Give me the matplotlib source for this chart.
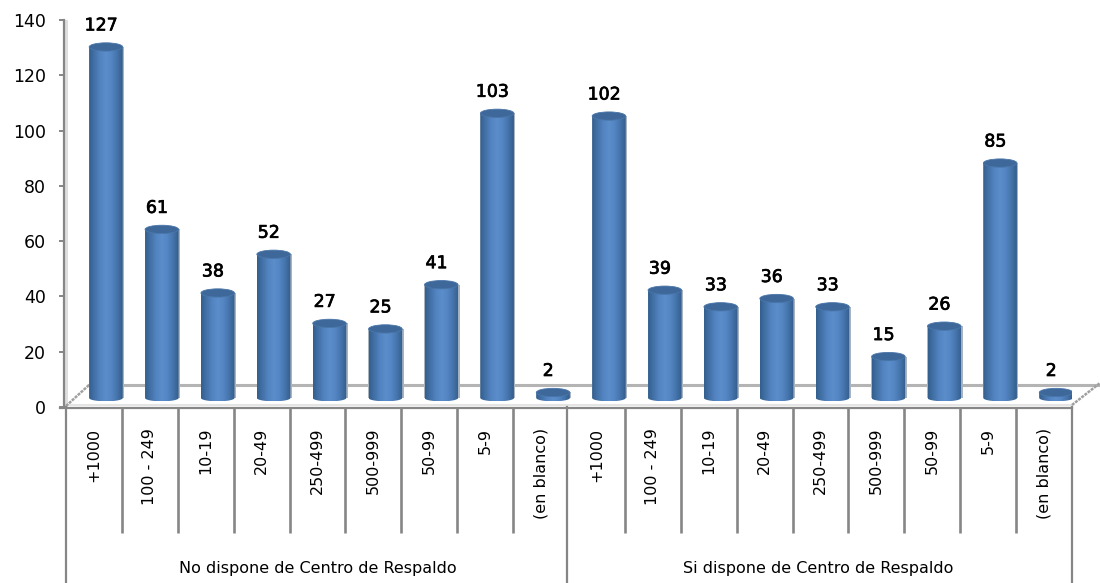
import numpy as np
import matplotlib
matplotlib.use("Agg")
import matplotlib.pyplot as plt
import matplotlib.patheffects as pe
from matplotlib.patches import Ellipse
from matplotlib.path import Path
from matplotlib.colors import LinearSegmentedColormap

W, H = 1100, 583

sizes = ["+1000", "100 - 249", "10-19", "20-49", "250-499", "500-999", "50-99", "5-9", "(en blanco)"]
groups = ["No dispone de Centro de Respaldo", "Si dispone de Centro de Respaldo"]
no_dispone = [127, 61, 38, 52, 27, 25, 41, 103, 2]
si_dispone = [102, 39, 33, 36, 33, 15, 26, 85, 2]
yticks = [0, 20, 40, 60, 80, 100, 120, 140]

values = no_dispone + si_dispone
labels = sizes + sizes
x = np.arange(len(values))

GREY = "#868686"
plt.rcParams["font.family"] = "DejaVu Sans"
plt.rcParams["font.size"] = 11.5

fig = plt.figure(figsize=(W / 100, H / 100), dpi=100)

# fondo en pixeles: paredes y suelo del grafico 3D
bg = fig.add_axes([0, 0, 1, 1])
bg.set_xlim(0, W)
bg.set_ylim(H, 0)
bg.axis("off")
bg.fill_between([65, 68], 20, 407, color="#dedede", lw=0)
bg.plot([89, 1100], [385, 385], color="#b4b4b4", lw=2.2)
bg.plot([68, 1072], [404.5, 404.5], color="#e4e4e4", lw=1.5)
bg.plot([66, 89], [406, 385], color="#a0a0a0", lw=1.8, ls=(0, (1.2, 0.4)))
bg.plot([1072, 1100], [405, 383], color="#a0a0a0", lw=1.8, ls=(0, (1.2, 0.4)))
bg.plot([60, 1072], [407.5, 407.5], color=GREY, lw=1.6)

ax = fig.add_axes([66 / W, 1 - 407 / H, (1072 - 66) / W, (407 - 20) / H])
ax.patch.set_visible(False)
ax.set_xlim(-0.5, 17.5)
ax.set_ylim(0, 140)

for s in ["top", "right", "bottom"]:
    ax.spines[s].set_visible(False)
ax.spines["left"].set_position(("outward", 1.5))
ax.spines["left"].set_color(GREY)
ax.spines["left"].set_linewidth(1.6)

ax.set_yticks(yticks)
ax.tick_params(axis="y", length=3.6, width=1.4, color=GREY, pad=9.5, labelsize=12.5)

ax.set_xticks(x, labels, rotation=90)
ax.tick_params(axis="x", which="major", length=0, pad=15)
# el separador entre grupos se dibuja aparte, mas largo
ax.set_xticks(np.delete(np.arange(-0.5, 18), [0, 9, 18]), minor=True)
ax.tick_params(axis="x", which="minor", length=90.5, width=1.9, color=GREY)

cmap = LinearSegmentedColormap.from_list(
    "barra", ["#34608f", "#4472a9", "#5385c3", "#5a8dca", "#5486c4", "#4674ab", "#335d8d"]
)
grad = np.linspace(0, 1, 64).reshape(1, -1)

dx = 12 / 55.9       # desplazamiento de profundidad
base = 3.25          # valor donde arranca la barra
half = 0.3           # media anchura
bottom_h = 1.2
cap_h = 1.5

for xi, v in zip(x, values):
    cx = xi + dx
    top = base + v
    # sombra a la derecha
    ax.bar(cx + 0.012, v, bottom=base, width=2 * half + 0.03, color="#aab4c0", lw=0, zorder=2)
    t = np.linspace(0, np.pi, 30)
    arc_x = cx - half * np.cos(t)
    arc_y = base - bottom_h * np.sin(t)
    verts = list(zip(arc_x, arc_y)) + [(cx + half, top), (cx - half, top), (cx - half, base)]
    im = ax.imshow(grad, extent=[cx - half, cx + half, base - bottom_h, top], cmap=cmap,
                   aspect="auto", zorder=3, interpolation="bilinear")
    im.set_clip_path(Path(verts), ax.transData)
    ax.add_patch(Ellipse((cx, top), 2 * half, 2 * cap_h, fc="#3d6899", ec="#4a76aa", lw=0.6, zorder=4))
    ax.annotate(str(v), (cx, top), xytext=(-3.5, 9), textcoords="offset points", ha="center",
                va="bottom", color="black", fontsize=12.5, zorder=5, annotation_clip=False,
                path_effects=[pe.withStroke(linewidth=0.5, foreground="black")])

ax.set_xlim(-0.5, 17.5)
ax.set_ylim(0, 140)

# lineas de separacion de los dos grupos
bg.plot([66, 66], [407, H], color=GREY, lw=1.6)
bg.plot([567, 567], [407, H], color=GREY, lw=1.6)
bg.plot([1072, 1072], [407, H], color=GREY, lw=1.6)
bg.text(318, 568, groups[0], ha="center", va="center")
bg.text(818, 568, groups[1], ha="center", va="center")

fig.savefig("out.png", dpi=100)
